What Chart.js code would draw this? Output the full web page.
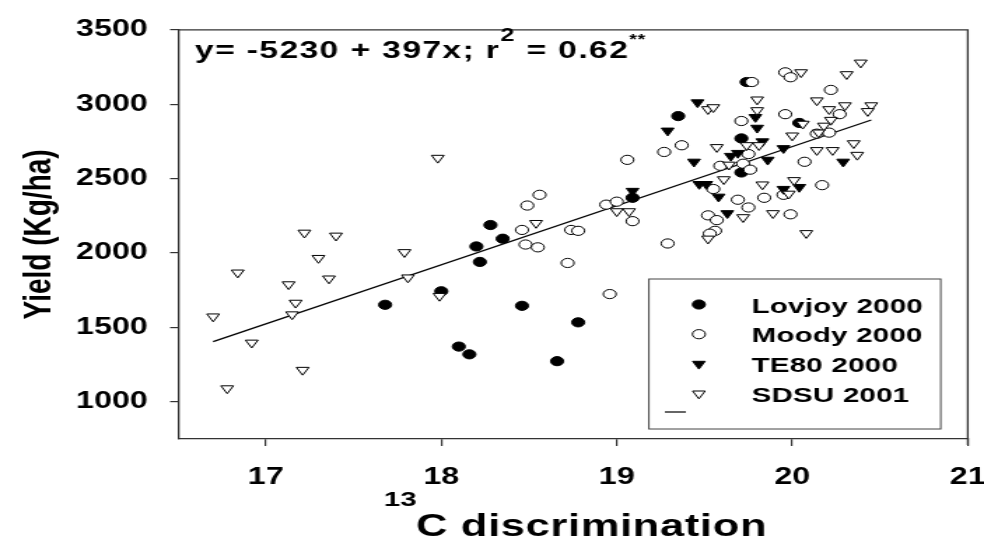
<!DOCTYPE html>
<html>
<head>
<meta charset="utf-8">
<script src="https://cdn.jsdelivr.net/npm/chart.js@4.4.1/dist/chart.umd.min.js"></script>
<style>
  html, body { margin: 0; padding: 0; background: #fff; overflow: hidden; }
  /* the original figure is stretched sideways, so the canvas is too */
  #wrap { width: 703px; height: 550px; transform: scaleX(1.3997); transform-origin: 0 0; }
</style>
</head>
<body>
<div id="wrap"><canvas id="chart" width="703" height="550"></canvas></div>
<script>
// Valores
const lovjoyX = [17.68, 18.00, 18.28, 18.35, 18.20, 18.22, 18.46, 18.78, 18.10, 18.16, 18.66, 19.35, 19.09, 19.74, 19.71, 19.71, 20.04];
const lovjoyY = [1652, 1743, 2188, 2096, 2044, 1940, 1645, 1534, 1371, 1319, 1273, 2920, 2371, 3149, 2770, 2541, 2874];

const moodyX = [18.56, 18.49, 18.46, 18.48, 18.55, 18.74, 18.78, 18.72, 18.96, 18.94, 19.00, 19.06, 19.09, 19.27,
  19.37, 19.29, 19.71, 19.59, 19.72, 19.76, 19.55, 19.69, 19.52, 19.57, 19.56, 19.53, 19.75, 19.84, 19.95, 19.99,
  20.17, 20.07, 20.14, 20.21, 20.27, 19.96, 20.22, 19.96, 19.99, 19.77, 19.75];
const moodyY = [2391, 2319, 2155, 2057, 2038, 2155, 2149, 1933, 1724, 2325, 2345, 2626, 2214, 2679,
  2724, 2064, 2887, 2586, 2600, 2560, 2430, 2358, 2253, 2221, 2149, 2130, 2306, 2371, 2391, 2260,
  2456, 2613, 2802, 2809, 2933, 2933, 3096, 3214, 3181, 3149, 2665];

const te80X = [19.46, 19.29, 19.44, 19.09, 19.47, 19.51, 19.58, 19.63, 19.65, 19.69, 19.79, 19.80, 19.83, 19.86, 19.95, 20.29, 19.95, 20.04];
const te80Y = [3012, 2822, 2613, 2417, 2463, 2463, 2378, 2267, 2652, 2672, 2913, 2841, 2750, 2626, 2704, 2613, 2430, 2443];

const sdsuX = [16.70, 16.78, 16.84, 16.92, 17.13, 17.15, 17.17, 17.21, 17.22, 17.30, 17.36, 17.40, 17.79, 17.81,
  17.98, 17.99, 18.54, 19.00, 19.07, 19.52, 19.52, 19.55, 19.57, 19.61, 19.64, 19.72, 19.74, 19.80, 19.80, 19.81,
  19.83, 19.89, 19.98, 20.01, 20.00, 20.05, 20.06, 20.08, 20.14, 20.21, 20.30, 20.31, 20.39, 20.45, 20.43, 20.22,
  20.18, 20.15, 20.14, 20.23, 20.35, 20.37];
const sdsuY = [1573, 1090, 1868, 1397, 1789, 1587, 1665, 1214, 2136, 1966, 1828, 2116, 2005, 1835,
  2639, 1711, 2201, 2280, 2280, 2096, 2966, 2979, 2711, 2495, 2593, 2240, 2724, 3031, 2959, 2724,
  2460, 2267, 2398, 2489, 2789, 3214, 2868, 2133, 3025, 2966, 2992, 3201, 3279, 2992, 2953, 2894,
  2855, 2809, 2691, 2691, 2737, 2659];

// Extremos da reta de regressão
const fitX = [16.70, 20.45];
const fitY = [1404, 2894];

const xTicks = [17, 18, 19, 20, 21];
const yTicks = [1000, 1500, 2000, 2500, 3000, 3500];

const FONT = 'Liberation Sans, Arial, Helvetica, sans-serif';
const INK = '#000';
const AXIS = '#333';

function pts(xs, ys) {
  return xs.map((x, i) => ({ x: x, y: ys[i] }));
}

// Símbolos da legenda (mesma forma dos pontos)
function marker(ctx, kind, x, y) {
  ctx.beginPath();
  if (kind === 'circle') {
    ctx.arc(x, y, 4.6, 0, Math.PI * 2);
  } else {
    const r = 5.2;
    ctx.moveTo(x, y + r);
    ctx.lineTo(x - 0.866 * r, y - 0.5 * r);
    ctx.lineTo(x + 0.866 * r, y - 0.5 * r);
    ctx.closePath();
  }
}

const legendItems = [
  { label: 'Lovjoy 2000', kind: 'circle', fill: INK },
  { label: 'Moody 2000', kind: 'circle', fill: '#fff' },
  { label: 'TE80 2000', kind: 'triangle', fill: INK },
  { label: 'SDSU 2001', kind: 'triangle', fill: '#fff' }
];

// texto letra a letra, com espaçamento extra
function spaced(ctx, text, x, y, sp) {
  for (const ch of text) {
    ctx.fillText(ch, x, y);
    x += ctx.measureText(ch).width + sp;
  }
  return x;
}

function runs(ctx, x, list) {
  list.forEach(r => {
    ctx.font = 'bold ' + r.size + 'px ' + FONT;
    x = spaced(ctx, r.t, x, r.base, r.sp || 0);
  });
  return x;
}

const extras = {
  id: 'extras',
  afterDraw(chart) {
    const { ctx, chartArea: a } = chart;
    ctx.save();

    // moldura superior e direita
    ctx.strokeStyle = AXIS;
    ctx.lineWidth = 1.3;
    ctx.beginPath();
    ctx.moveTo(a.left, a.top);
    ctx.lineTo(a.right, a.top);
    ctx.lineTo(a.right, a.bottom + 6);
    ctx.stroke();

    ctx.fillStyle = INK;
    ctx.textAlign = 'left';
    ctx.textBaseline = 'alphabetic';

    // equação
    runs(ctx, 139.3, [
      { t: 'y= -5230 + 397x; r', size: 24, base: 58, sp: 1 },
      { t: '2', size: 18, base: 41, sp: 1 },
      { t: ' = 0.62', size: 24, base: 58, sp: 1 },
      { t: '**', size: 14, base: 44, sp: 0.5 }
    ]);

    // título do eixo x com sobrescrito
    const cx = 297.2;
    ctx.font = 'bold 21px ' + FONT;
    ctx.textAlign = 'right';
    ctx.fillText('13', cx + 0.5, 506);
    ctx.textAlign = 'left';
    ctx.font = 'bold 31px ' + FONT;
    spaced(ctx, 'C discrimination', cx, 536, 0.5);

    // título do eixo y
    ctx.save();
    ctx.translate(28, (a.top + a.bottom) / 2);
    ctx.rotate(-Math.PI / 2);
    ctx.textAlign = 'center';
    ctx.textBaseline = 'middle';
    ctx.font = 'bold 28px ' + FONT;
    ctx.fillText('Yield (Kg/ha)', 0, 0);
    ctx.restore();

    // legenda
    ctx.fillStyle = '#fff';
    ctx.fillRect(463.6, 279, 208.5, 150);
    ctx.strokeStyle = '#444';
    ctx.lineWidth = 1;
    ctx.strokeRect(463.6, 279, 208.5, 150);
    legendItems.forEach((it, i) => {
      const y = 304.5 + i * 29.7;
      marker(ctx, it.kind, 499.3, y);
      ctx.fillStyle = it.fill;
      ctx.fill();
      ctx.strokeStyle = INK;
      ctx.lineWidth = 1;
      ctx.stroke();
      ctx.fillStyle = INK;
      ctx.font = 'bold 21px ' + FONT;
      spaced(ctx, it.label, 537, y + 8, 0.2);
    });
    ctx.strokeStyle = INK;
    ctx.lineWidth = 1.2;
    ctx.beginPath();
    ctx.moveTo(475, 412);
    ctx.lineTo(490, 412);
    ctx.stroke();

    ctx.restore();
  }
};

const ctx = document.getElementById('chart').getContext('2d');

new Chart(ctx, {
  type: 'scatter',
  data: {
    datasets: [
      {
        label: 'Lovjoy 2000', data: pts(lovjoyX, lovjoyY), order: 4,
        pointStyle: 'circle', radius: 4.6, backgroundColor: INK, borderColor: INK, borderWidth: 1
      },
      {
        label: 'Moody 2000', data: pts(moodyX, moodyY), order: 3,
        pointStyle: 'circle', radius: 4.6, backgroundColor: '#fff', borderColor: INK, borderWidth: 1
      },
      {
        label: 'TE80 2000', data: pts(te80X, te80Y), order: 2,
        pointStyle: 'triangle', rotation: 180, radius: 5.2, backgroundColor: INK, borderColor: INK, borderWidth: 1
      },
      {
        label: 'SDSU 2001', data: pts(sdsuX, sdsuY), order: 1,
        pointStyle: 'triangle', rotation: 180, radius: 5.2, backgroundColor: '#fff', borderColor: INK, borderWidth: 1
      },
      {
        label: 'fit', data: pts(fitX, fitY), order: 5,
        showLine: true, borderColor: INK, borderWidth: 1.3, pointRadius: 0, fill: false
      }
    ]
  },
  options: {
    responsive: false,
    animation: false,
    devicePixelRatio: 1,
    layout: { padding: { left: 0, right: 11.6, top: 18, bottom: 0 } },
    plugins: {
      legend: { display: false },
      tooltip: { enabled: false }
    },
    scales: {
      x: {
        type: 'linear',
        min: 16.5,
        max: 21,
        afterBuildTicks: s => { s.ticks = xTicks.map(v => ({ value: v })); },
        afterFit: s => {
          s.height = 111;
          s.paddingLeft = 0;
          s.paddingRight = 0;
        },
        grid: { drawOnChartArea: false, drawTicks: true, tickLength: 7, color: AXIS, lineWidth: 1.2 },
        border: { display: true, color: AXIS, width: 1.3 },
        ticks: {
          color: INK, padding: 0, maxRotation: 0,
          font: { family: FONT, size: 23, weight: 'bold', lineHeight: 2.78 },
          callback: v => String(v)
        }
      },
      y: {
        type: 'linear',
        min: 750,
        max: 3500,
        afterBuildTicks: s => { s.ticks = yTicks.map(v => ({ value: v })); },
        afterFit: s => { s.width = 127.2; },
        grid: { drawOnChartArea: false, drawTicks: true, tickLength: 5.7, color: AXIS, lineWidth: 1.2 },
        border: { display: true, color: AXIS, width: 1.3 },
        ticks: {
          color: INK, padding: 16,
          font: { family: FONT, size: 23, weight: 'bold' },
          callback: v => String(v)
        }
      }
    }
  },
  plugins: [extras]
});
</script>
</body>
</html>
